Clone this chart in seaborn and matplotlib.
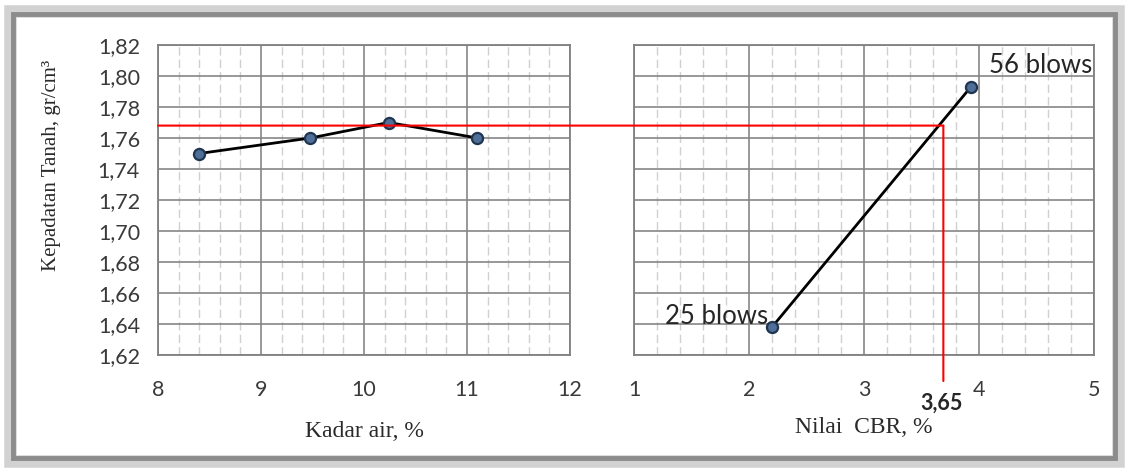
import matplotlib
matplotlib.use("Agg")
import matplotlib.pyplot as plt
import seaborn as sns
import pandas as pd
from matplotlib.patches import ConnectionPatch, Rectangle
from matplotlib.ticker import MultipleLocator, FuncFormatter

# ---- data ----
kadar_air = [8.4, 9.48, 10.24, 11.1]
kepadatan_kiri = [1.75, 1.76, 1.77, 1.76]
nilai_cbr = [2.2, 3.93]
kepadatan_kanan = [1.638, 1.793]
blow_labels = ["25 blows", "56 blows"]
kepadatan_target = 1.768
cbr_garis = 3.69
cbr_label = "3,65"
xlabel_kiri = "Kadar air, %"
xlabel_kanan = "Nilai  CBR, %"
ylabel = "Kepadatan Tanah, gr/cm\u00b3"

sns.set_style("white")
plt.rcParams["font.family"] = ["Lato", "DejaVu Sans"]

df_kiri = pd.DataFrame({"x": kadar_air, "y": kepadatan_kiri})
df_kanan = pd.DataFrame({"x": nilai_cbr, "y": kepadatan_kanan})

W, H = 1127, 471
fig = plt.figure(figsize=(W / 100, H / 100), dpi=100)

# frame around whole figure
fig.patches.append(Rectangle((10 / W, 10 / H), 1108 / W, 450 / H, transform=fig.transFigure,
                             fill=False, edgecolor="#d2d2d2", linewidth=9, zorder=0))
fig.patches.append(Rectangle((13 / W, 13 / H), 1102 / W, 444 / H, transform=fig.transFigure,
                             fill=False, edgecolor="#8c8c8c", linewidth=3.5, zorder=0))

ax1 = fig.add_axes([158 / W, 1 - 355 / H, 412 / W, 310 / H])
ax2 = fig.add_axes([634 / W, 1 - 355 / H, 460 / W, 310 / H])

fmt_y = FuncFormatter(lambda v, _: f"{v:.2f}".replace(".", ","))
serif = ["Liberation Serif", "DejaVu Serif"]

for ax, df, xlim in [(ax1, df_kiri, (8, 12)), (ax2, df_kanan, (1, 5))]:
    ax.set_xlim(*xlim)
    ax.set_ylim(1.62, 1.82)
    ax.xaxis.set_major_locator(MultipleLocator(1))
    ax.xaxis.set_minor_locator(MultipleLocator(0.2))
    ax.yaxis.set_major_locator(MultipleLocator(0.02))
    ax.grid(True, which="major", color="#868686", linewidth=1.2, zorder=0)
    ax.grid(True, which="minor", axis="x", color="#d0d0d0", linewidth=1.0,
            linestyle=(0, (6, 3)), zorder=0)
    ax.set_axisbelow(True)
    for sp in ax.spines.values():
        sp.set_color("#808080")
        sp.set_linewidth(1.3)
    sns.lineplot(data=df, x="x", y="y", ax=ax, color="black", linewidth=2,
                 marker="o", markersize=8, markerfacecolor="#4f6f99",
                 markeredgecolor="#1f3550", markeredgewidth=1.6, zorder=5)
    ax.tick_params(axis="x", which="both", length=0, pad=18, labelsize=15.5, labelcolor="#3a3a3a")

ax1.yaxis.set_major_formatter(fmt_y)
ax1.tick_params(axis="y", which="major", length=6, width=1.2, color="#808080",
                direction="out", pad=7, labelsize=15.5, labelcolor="#3a3a3a")
ax2.tick_params(axis="y", which="both", length=0, labelleft=False)
ax2.set_ylabel("")

ax1.set_xlabel(xlabel_kiri, fontsize=17, family=serif, labelpad=15, color="#2a2a2a")
ax2.set_xlabel(xlabel_kanan, fontsize=17, family=serif, labelpad=12, color="#2a2a2a")
ax1.set_ylabel(ylabel, fontsize=15, family=serif, color="#2a2a2a")
ax1.yaxis.set_label_coords(-0.235, 0.613)

# annotations
ax2.annotate(blow_labels[0], xy=(nilai_cbr[0], kepadatan_kanan[0]), xytext=(-3, 2),
             textcoords="offset points", ha="right", va="baseline", fontsize=18.5, zorder=6)
ax2.annotate(blow_labels[1], xy=(nilai_cbr[1], kepadatan_kanan[1]), xytext=(13, 10),
             textcoords="offset points", ha="left", va="baseline", fontsize=18.5, zorder=6)

# red guide lines
con_h = ConnectionPatch(xyA=(ax1.get_xlim()[0], kepadatan_target), coordsA=ax1.transData,
                        xyB=(cbr_garis, kepadatan_target), coordsB=ax2.transData,
                        color="red", linewidth=1.5, zorder=10)
fig.add_artist(con_h)
con_v = ConnectionPatch(xyA=(cbr_garis, kepadatan_target), coordsA=ax2.transData,
                        xyB=(cbr_garis, -0.084), coordsB=ax2.get_xaxis_transform(),
                        color="red", linewidth=1.5, zorder=10)
fig.add_artist(con_v)
ax2.text(3.67, -0.155, cbr_label, transform=ax2.get_xaxis_transform(), ha="center",
         va="center", fontsize=15.5, fontweight="bold", clip_on=False)

fig.savefig("out.png", dpi=100)
